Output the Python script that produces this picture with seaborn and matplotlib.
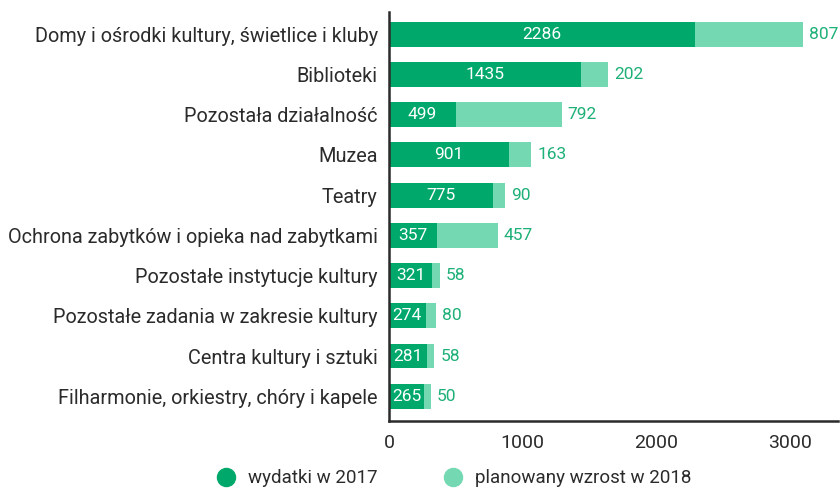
import matplotlib
matplotlib.use('Agg')
import matplotlib.pyplot as plt
from matplotlib.lines import Line2D
import pandas as pd
import seaborn as sns

categories = [
    'Domy i ośrodki kultury, świetlice i kluby',
    'Biblioteki',
    'Pozostała działalność',
    'Muzea',
    'Teatry',
    'Ochrona zabytków i opieka nad zabytkami',
    'Pozostałe instytucje kultury',
    'Pozostałe zadania w zakresie kultury',
    'Centra kultury i sztuki',
    'Filharmonie, orkiestry, chóry i kapele',
]
spend_2017 = [2286, 1435, 499, 901, 775, 357, 321, 274, 281, 265]
growth_2018 = [807, 202, 792, 163, 90, 457, 58, 80, 58, 50]
x_ticks = [0, 1000, 2000, 3000]

DARK = '#00a96b'
LIGHT = '#74d9b3'
LABEL_GREEN = '#1db077'
INK = '#2b2b2b'

sns.set_theme(style='white')
plt.rcParams['font.family'] = ['Roboto', 'DejaVu Sans']

df = pd.DataFrame({'cat': categories, 'base': spend_2017, 'inc': growth_2018})
df['total'] = df['base'] + df['inc']

fig = plt.figure(figsize=(8.4, 4.88), dpi=100)
ax = fig.add_axes([0.463, 0.137, 0.535, 0.838])

# light bar = full planned total, dark bar drawn on top = 2017 spend
sns.barplot(data=df, y='cat', x='total', color=LIGHT, orient='h',
            width=0.62, saturation=1, linewidth=0, ax=ax)
sns.barplot(data=df, y='cat', x='base', color=DARK, orient='h',
            width=0.62, saturation=1, linewidth=0, ax=ax)

for i, row in df.iterrows():
    ax.text(row['base'] / 2, i, str(row['base']), color='white',
            ha='center', va='center', fontsize=12.5)
    ax.text(row['total'] + 45, i, str(row['inc']), color=LABEL_GREEN,
            ha='left', va='center', fontsize=12.5)

ax.set_xlim(0, 3360)
ax.set_ylim(9.62, -0.55)
ax.set_xticks(x_ticks)
ax.set_xlabel('')
ax.set_ylabel('')
ax.tick_params(axis='x', direction='in', length=7, width=1.8, color=INK,
               labelsize=14, labelcolor=INK, pad=9)
ax.tick_params(axis='y', length=0, labelsize=14.3, labelcolor=INK, pad=8)

for side in ['top', 'right']:
    ax.spines[side].set_visible(False)
for side in ['left', 'bottom']:
    ax.spines[side].set_color(INK)
    ax.spines[side].set_linewidth(1.8)

handles = [
    Line2D([], [], marker='o', linestyle='', markersize=13,
           markerfacecolor=DARK, markeredgecolor=DARK, label='wydatki w 2017'),
    Line2D([], [], marker='o', linestyle='', markersize=13,
           markerfacecolor=LIGHT, markeredgecolor=LIGHT,
           label='planowany wzrost w 2018'),
]
fig.legend(handles=handles, loc='center', bbox_to_anchor=(0.535, 0.02),
           ncol=2, frameon=False, fontsize=13.5, handletextpad=0.2,
           columnspacing=3.0, labelcolor=INK)

fig.savefig('out.png', dpi=100)
